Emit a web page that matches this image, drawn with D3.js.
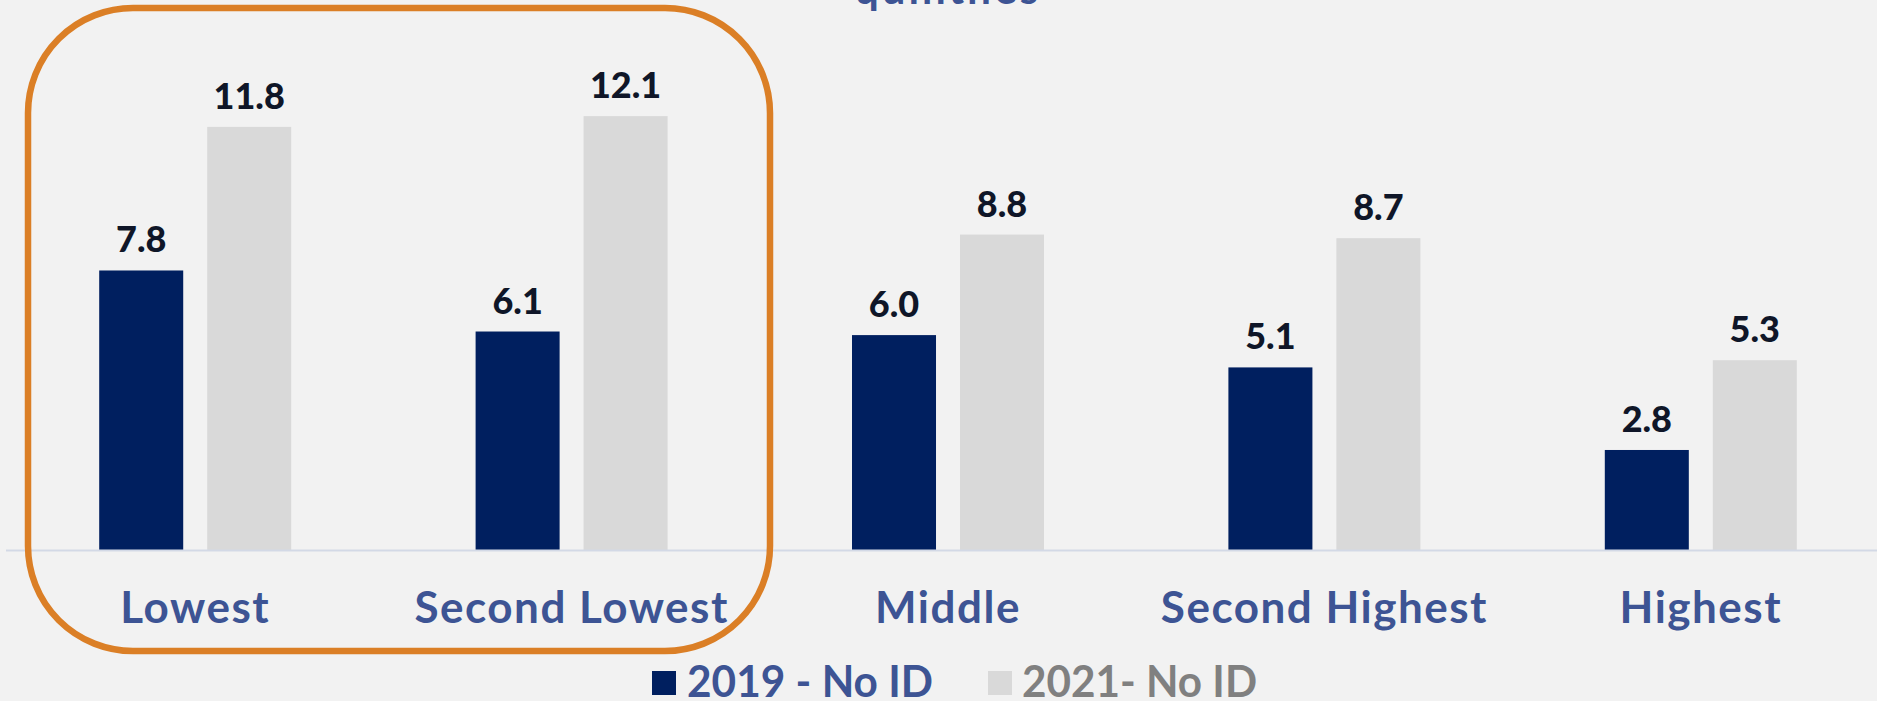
<!DOCTYPE html>
<html>
<head>
<meta charset="utf-8">
<script src="https://cdn.jsdelivr.net/npm/d3@7"></script>
<style>
  html, body { margin: 0; padding: 0; background: #f2f2f2; }
  svg { display: block; }
</style>
</head>
<body>
<svg id="chart"></svg>
<script>
// Chart data
const categories = ["Lowest", "Second Lowest", "Middle", "Second Highest", "Highest"];
const series = ["2019 - No ID", "2021- No ID"];
const values2019 = [7.8, 6.1, 6.0, 5.1, 2.8];
const values2021 = [11.8, 12.1, 8.8, 8.7, 5.3];
const titleText = "quintiles";

const width = 1877;
const height = 701;
const baseY = 550.5;

const colors = { "2019 - No ID": "#001f5f", "2021- No ID": "#d9d9d9" };
const legendText = { "2019 - No ID": "#3d5494", "2021- No ID": "#808080" };

const svg = d3.select("#chart")
    .attr("width", width)
    .attr("height", height);

svg.append("rect")
    .attr("width", width)
    .attr("height", height)
    .attr("fill", "#f2f2f2");

// Scales
const x0 = d3.scaleBand()
    .domain(categories)
    .range([7, 1889])
    .paddingInner(0)
    .paddingOuter(0);

// two bars of ~84px with a ~24px gap, centred in each band
const x1 = d3.scaleBand()
    .domain(series)
    .range([x0.bandwidth() / 2 - 96, x0.bandwidth() / 2 + 96])
    .paddingInner(0.222);

const y = d3.scaleLinear()
    .domain([0, 14])
    .range([baseY, baseY - 14 * 35.9]);

// Title (only last line is visible)
svg.append("text")
    .attr("x", x0("Middle") + x0.bandwidth() / 2)
    .attr("y", 4)
    .attr("text-anchor", "middle")
    .attr("font-family", "Lato")
    .attr("font-weight", "bold")
    .attr("font-size", 42)
    .attr("letter-spacing", 3)
    .attr("fill", "#3d5494")
    .text(titleText);

// Grouped data
const data = categories.map((c, i) => ({
    category: c,
    bars: [
        { key: series[0], value: values2019[i] },
        { key: series[1], value: values2021[i] }
    ]
}));

const groups = svg.append("g")
    .selectAll("g")
    .data(data)
    .join("g")
    .attr("transform", d => `translate(${x0(d.category)},0)`);

groups.selectAll("rect")
    .data(d => d.bars)
    .join("rect")
    .attr("x", d => x1(d.key))
    .attr("y", d => y(d.value))
    .attr("width", x1.bandwidth())
    .attr("height", d => baseY - y(d.value))
    .attr("fill", d => colors[d.key]);

groups.selectAll("text.value")
    .data(d => d.bars)
    .join("text")
    .attr("class", "value")
    .attr("x", d => x1(d.key) + x1.bandwidth() / 2)
    .attr("y", d => y(d.value) - 18)
    .attr("text-anchor", "middle")
    .attr("font-family", "Lato")
    .attr("font-weight", "900")
    .attr("font-size", 36)
    .attr("fill", "#0f1628")
    .text(d => d.value.toFixed(1));

// Baseline axis
const xAxis = d3.axisBottom(x0).tickSize(0).tickPadding(0);
const gX = svg.append("g")
    .attr("transform", `translate(0,${baseY})`)
    .call(xAxis);

gX.select(".domain")
    .attr("d", `M6,0H${width}`)
    .attr("stroke", "#d3d9e6")
    .attr("stroke-width", 2);

gX.selectAll(".tick text")
    .attr("y", 72)
    .attr("dy", 0)
    .attr("font-family", "Lato")
    .attr("font-weight", "bold")
    .attr("font-size", 44)
    .attr("letter-spacing", 1.5)
    .attr("fill", "#3d5494");

// Highlight box around the two lowest quintiles
svg.append("rect")
    .attr("x", 28)
    .attr("y", 8)
    .attr("width", 742)
    .attr("height", 643)
    .attr("rx", 105)
    .attr("ry", 105)
    .attr("fill", "none")
    .attr("stroke", "#db7f26")
    .attr("stroke-width", 6.5);

// Legend
const legendPos = [{ sq: 652, tx: 687, w: 246 }, { sq: 988, tx: 1022, w: 235 }];
const legend = svg.append("g");
series.forEach((s, i) => {
    legend.append("rect")
        .attr("x", legendPos[i].sq)
        .attr("y", 671)
        .attr("width", 24)
        .attr("height", 24)
        .attr("fill", colors[s]);
    legend.append("text")
        .attr("x", legendPos[i].tx)
        .attr("y", 697)
        .attr("font-family", "Lato")
        .attr("font-weight", "bold")
        .attr("font-size", 44)
        .attr("textLength", legendPos[i].w)
        .attr("lengthAdjust", "spacingAndGlyphs")
        .attr("fill", legendText[s])
        .text(s);
});
</script>
</body>
</html>
